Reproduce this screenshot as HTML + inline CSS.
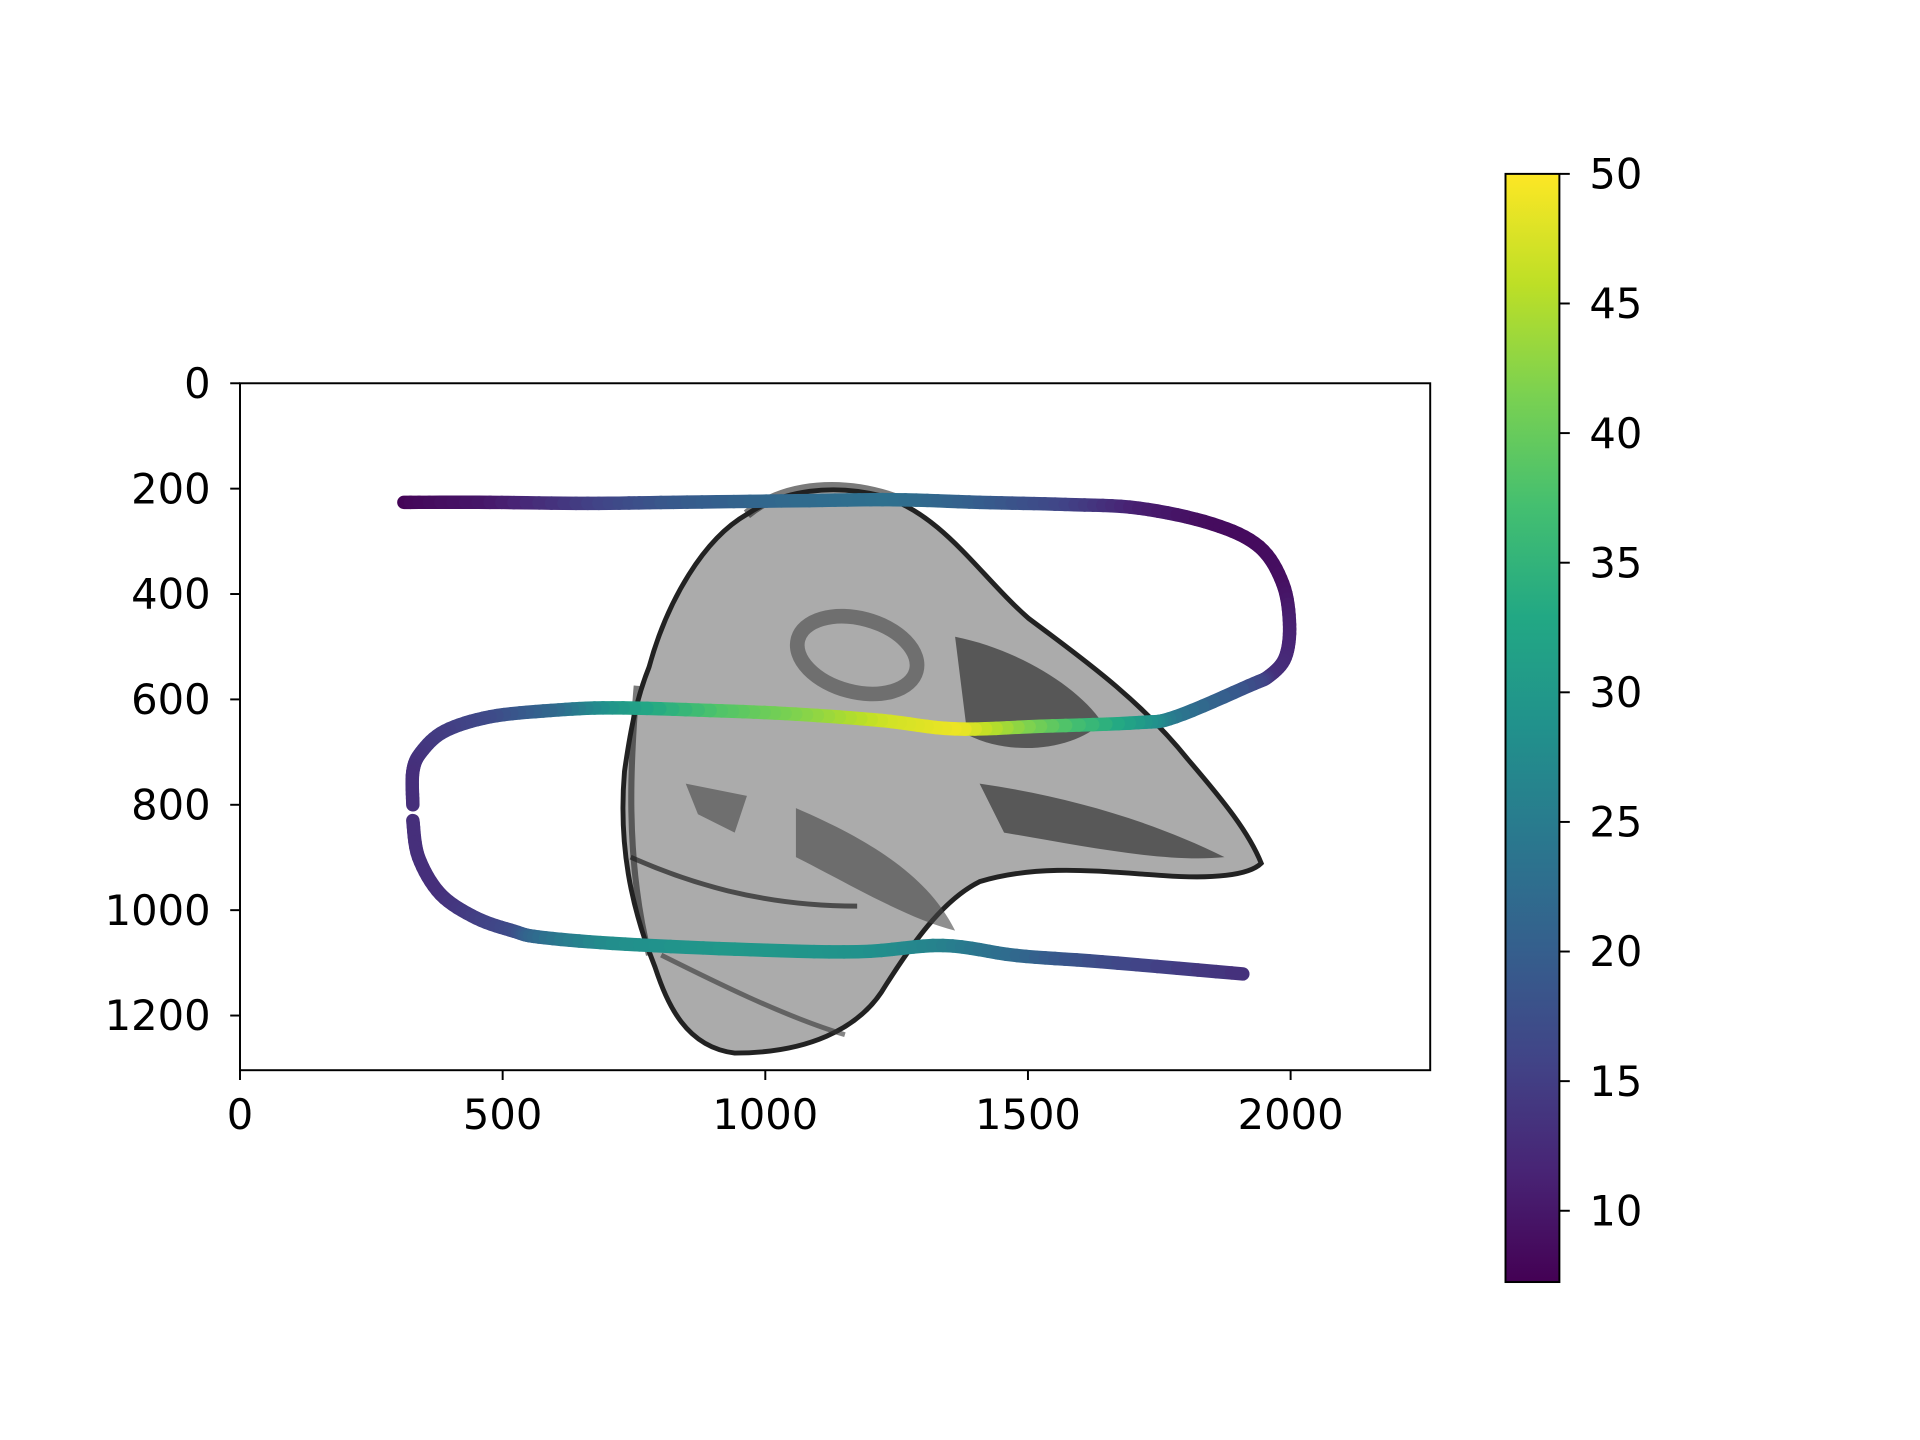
<!DOCTYPE html>
<html><head><meta charset="utf-8"><style>
html,body{margin:0;padding:0;background:#fff;}
svg{display:block;}
text{font-family:"DejaVu Sans","Liberation Sans",sans-serif;font-size:34px;fill:#000;}
</style></head><body>
<svg id="chart" width="1920" height="1440" viewBox="0 0 1568 1176" xmlns="http://www.w3.org/2000/svg">
<defs>
<clipPath id="axclip"><rect x="196" y="313" width="972" height="561"/></clipPath>
<linearGradient id="viridis" x1="0" y1="1" x2="0" y2="0">
<stop offset="0" stop-color="#440154"/><stop offset="0.1" stop-color="#482475"/><stop offset="0.2" stop-color="#414487"/><stop offset="0.3" stop-color="#355f8d"/><stop offset="0.4" stop-color="#2a788e"/><stop offset="0.5" stop-color="#21918c"/><stop offset="0.6" stop-color="#22a884"/><stop offset="0.7" stop-color="#44bf70"/><stop offset="0.8" stop-color="#7ad151"/><stop offset="0.9" stop-color="#bddf26"/><stop offset="1" stop-color="#fde725"/>
</linearGradient>
</defs>
<g clip-path="url(#axclip)">
<path d="M530,545 C545,490 575,440 610,420 C640,400 680,395 720,405 C770,420 800,470 840,505 C880,535 930,570 970,620 C1000,655 1020,680 1030,705 C1020,715 990,718 950,715 C900,712 850,705 800,720 C770,735 745,770 720,810 C700,840 660,860 600,860 C560,855 545,820 535,790 C515,740 505,690 510,630 C515,595 520,570 530,545 Z" fill="#ababab" stroke="#222" stroke-width="4"/>
<path d="M610,420 C640,395 690,390 740,410" fill="none" stroke="#222" stroke-width="8" opacity="0.6"/>
<ellipse cx="700" cy="535" rx="50" ry="30" fill="none" stroke="#555" stroke-width="12" opacity="0.7" transform="rotate(15 700 535)"/>
<path d="M780,520 C830,530 880,560 900,590 C880,610 830,620 790,600 Z" fill="#333" opacity="0.7"/>
<path d="M800,640 C870,650 940,670 1000,700 C950,705 880,690 820,680 Z" fill="#444" opacity="0.8"/>
<path d="M650,660 C720,690 760,720 780,760 C740,750 690,720 650,700 Z" fill="#444" opacity="0.6"/>
<path d="M515,700 C560,720 620,740 700,740" fill="none" stroke="#222" stroke-width="4" opacity="0.7"/>
<path d="M560,640 L610,650 L600,680 L570,665 Z" fill="#555" opacity="0.7"/>
<path d="M540,780 C580,800 640,830 690,845" fill="none" stroke="#333" stroke-width="4" opacity="0.6"/>
<path d="M520,560 C515,620 510,700 530,780" fill="none" stroke="#222" stroke-width="5" opacity="0.6"/>
</g>
<g id="series" clip-path="url(#axclip)"></g>
<rect x="196" y="313" width="972" height="561" fill="none" stroke="#000" stroke-width="1.6"/>
<g id="xaxis"></g>
<g id="yaxis"></g>
<rect x="1229.5" y="142" width="44" height="905" fill="url(#viridis)" stroke="#000" stroke-width="1.6"/>
<g id="cbaxis"></g>
</svg>
<script>
const trajX = [312,476,662,825,1058,1245,1408,1571,1711,1851,1940,1985,1998,1990,1960,1921,1781,1711,1524,1361,1221,1058,895,709,592,476,390,345,329,329];
const trajY = [226,226,228,226,223,221,226,230,237,267,310,380,458,520,555,574,633,644,651,656,640,628,621,616,621,633,660,700,737,800];
const trajC = [7.5,10,15,19,22,23,20,16,11,8.5,8.5,9,11,12,13,17,24,30,40,49,47,42,38,30,22,17,15,14,13,13];
const traj2X = [329,340,382,450,522,569,709,942,1175,1338,1478,1641,1909];
const traj2Y = [830,900,970,1015,1040,1051,1063,1074,1079,1067,1086,1098,1121];
const traj2C = [13,13,13,15,17,22,28,30,29,26,22,17,13];
const xTicks = [0,500,1000,1500,2000];
const yTicks = [0,200,400,600,800,1000,1200];
const cTicks = [10,15,20,25,30,35,40,45,50];
const X0=196, XS=0.429, Y0=313, YS=0.4303;
const CMIN=7.25, CMAX=50, CB_TOP=142, CB_BOT=1047;
function sx(v){return X0+v*XS;}
function sy(v){return Y0+v*YS;}
function sc(v){return CB_BOT-(v-CMIN)/(CMAX-CMIN)*(CB_BOT-CB_TOP);}
const vir=[[68,1,84],[72,36,117],[65,68,135],[53,95,141],[42,120,142],[33,145,140],[34,168,132],[68,191,112],[122,209,81],[189,223,38],[253,231,37]];
function cmap(v){let t=Math.max(0,Math.min(1,(v-CMIN)/(CMAX-CMIN)))*10;let i=Math.min(9,Math.floor(t)),f=t-i;let a=vir[i],b=vir[i+1];return 'rgb('+a.map((c,k)=>Math.round(c+(b[k]-c)*f)).join(',')+')';}
const NS='http://www.w3.org/2000/svg';
function mk(tag,attrs,parent){const e=document.createElementNS(NS,tag);for(const k in attrs)e.setAttribute(k,attrs[k]);parent.appendChild(e);return e;}
const g=document.getElementById('series');
function cr(p0,p1,p2,p3,t){const t2=t*t,t3=t2*t;return 0.5*((2*p1)+(-p0+p2)*t+(2*p0-5*p1+4*p2-p3)*t2+(-p0+3*p1-3*p2+p3)*t3);}
function drawSeg(xs,ys,cs){
  const n=xs.length, SUB=8;
  for(let i=0;i<n-1;i++){
    const a=Math.max(0,i-1), d=Math.min(n-1,i+2);
    const px=[sx(xs[a]),sx(xs[i]),sx(xs[i+1]),sx(xs[d])];
    const py=[sy(ys[a]),sy(ys[i]),sy(ys[i+1]),sy(ys[d])];
    for(let s=0;s<SUB;s++){
      const t0=s/SUB,t1=(s+1)/SUB;
      const l=mk('line',{x1:cr(...px,t0),y1:cr(...py,t0),x2:cr(...px,t1),y2:cr(...py,t1),stroke:cmap(cs[i]+(cs[i+1]-cs[i])*(t0+t1)/2),'stroke-width':11,'stroke-linecap':'round'},g);
      
      
    }
  }
}
drawSeg(trajX,trajY,trajC);
drawSeg(traj2X,traj2Y,traj2C);
const xa=document.getElementById('xaxis');
xTicks.forEach(v=>{
  const t=mk('line',{x1:sx(v),x2:sx(v),y1:874,y2:882,stroke:'#000','stroke-width':1.6},xa);
  
  
  const l=mk('text',{x:sx(v),y:922,'text-anchor':'middle'},xa);l.textContent=v;
  
  
});
const ya=document.getElementById('yaxis');
yTicks.forEach(v=>{
  const t=mk('line',{x1:188,x2:196,y1:sy(v),y2:sy(v),stroke:'#000','stroke-width':1.6},ya);
  
  
  const l=mk('text',{x:172,y:sy(v)+12,'text-anchor':'end'},ya);l.textContent=v;
  
  
});
const ca=document.getElementById('cbaxis');
cTicks.forEach(v=>{
  const t=mk('line',{x1:1274,x2:1282,y1:sc(v),y2:sc(v),stroke:'#000','stroke-width':1.6},ca);
  
  
  const l=mk('text',{x:1298,y:sc(v)+12,'text-anchor':'start'},ca);l.textContent=v;
  
  
});
</script>
</body></html>
